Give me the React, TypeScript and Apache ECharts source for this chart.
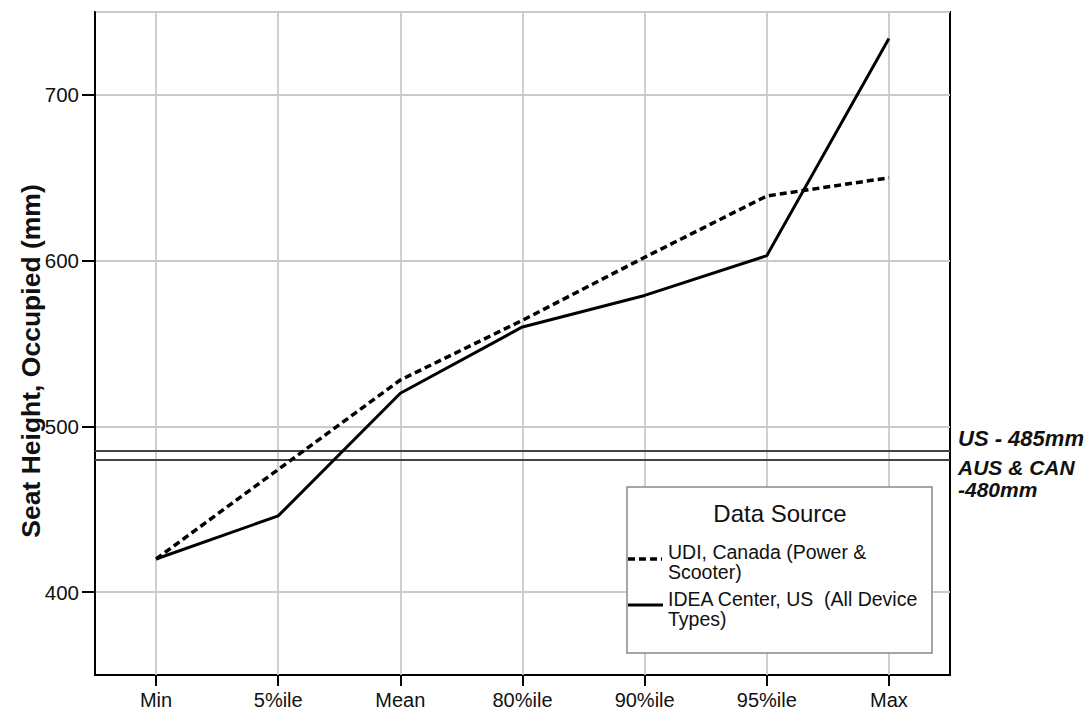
import React, { useEffect, useRef } from "react";
import * as echarts from "echarts";

const categories = ["Min", "5%ile", "Mean", "80%ile", "90%ile", "95%ile", "Max"];
const udiCanada = [420, 474, 528, 564, 602, 639, 650];
const ideaCenter = [420, 446, 520, 560, 579, 603, 734];
const yTicks = [400, 500, 600, 700];
const standardUS = 485;
const standardAusCan = 480;

const FONT = "'Liberation Sans', Arial, sans-serif";

export default function App() {
  const ref = useRef<HTMLDivElement>(null);
  useEffect(() => {
    if (!ref.current) return;
    const chart = echarts.init(ref.current, undefined, { renderer: "svg" });
    chart.setOption({
      animation: false,
      backgroundColor: "#fff",
      grid: {
        left: 95,
        right: 141,
        top: 12,
        bottom: 38,
        show: true,
        borderColor: "#000",
        borderWidth: 2,
        backgroundColor: "transparent",
      },
      xAxis: {
        type: "category",
        data: categories,
        boundaryGap: true,
        axisLine: { show: true, lineStyle: { color: "#000", width: 2 } },
        axisTick: { show: true, alignWithLabel: true, length: 11, lineStyle: { color: "#000", width: 2 } },
        axisLabel: { color: "#111", fontSize: 20, fontFamily: FONT, margin: 15 },
        splitLine: { show: false },
      },
      yAxis: {
        type: "value",
        min: 350,
        max: 750,
        axisLine: { show: true, lineStyle: { color: "#000", width: 2 } },
        axisTick: { show: true, length: 13, lineStyle: { color: "#000", width: 2 } },
        axisLabel: {
          color: "#111",
          fontSize: 20.5,
          fontFamily: FONT,
          margin: 16,
          showMinLabel: false,
          showMaxLabel: false,
          formatter: (v: number) => (yTicks.includes(v) ? String(v) : ""),
        },
        splitLine: { show: true, lineStyle: { color: "#cacaca", width: 1.8 } },
      },
      series: [
        {
          name: "UDI, Canada (Power & Scooter)",
          type: "line",
          data: udiCanada,
          symbol: "none",
          lineStyle: { color: "#000", width: 3.5, type: [7, 4] },
          z: 5,
          markLine: {
            silent: true,
            symbol: "none",
            label: { show: false },
            lineStyle: { color: "#444", width: 2, type: "solid" },
            data: [{ yAxis: standardUS }, { yAxis: standardAusCan }],
          },
        },
        {
          name: "IDEA Center, US  (All Device Types)",
          type: "line",
          data: ideaCenter,
          symbol: "none",
          lineStyle: { color: "#000", width: 3 },
          z: 6,
          markLine: {
            silent: true,
            symbol: "none",
            label: { show: false },
            z: 1,
            lineStyle: { color: "#cacaca", width: 1.8, type: "solid" },
            data: categories.map((c) => ({ xAxis: c })),
          },
        },
      ],
      graphic: [
        {
          type: "rect",
          z: 100,
          shape: { x: 78, y: 9, width: 16, height: 6 },
          style: { fill: "#fff" },
        },
        {
          type: "rect",
          z: 100,
          shape: { x: 78, y: 672, width: 16, height: 6 },
          style: { fill: "#fff" },
        },
        {
          type: "text",
          x: 31,
          y: 361,
          rotation: Math.PI / 2,
          style: {
            text: "Seat Height, Occupied (mm)",
            fill: "#111",
            font: `bold 26.5px ${FONT}`,
            align: "center",
            verticalAlign: "middle",
          },
        },
        {
          type: "text",
          x: 958,
          y: 427,
          style: {
            text: "US - 485mm",
            fill: "#111",
            font: `italic bold 22px ${FONT}`,
            align: "left",
            verticalAlign: "top",
          },
        },
        {
          type: "text",
          x: 958,
          y: 457,
          style: {
            text: "AUS & CAN",
            fill: "#111",
            font: `italic bold 21px ${FONT}`,
            lineHeight: 21,
            align: "left",
            verticalAlign: "top",
          },
        },
        {
          type: "text",
          x: 958,
          y: 479,
          style: {
            text: "-480mm",
            fill: "#111",
            font: `italic bold 21px ${FONT}`,
            lineHeight: 21,
            align: "left",
            verticalAlign: "top",
          },
        },
        {
          type: "rect",
          shape: { x: 627, y: 487, width: 305, height: 166 },
          style: { fill: "#fff", stroke: "#888", lineWidth: 1.5 },
          z: 10,
        },
        {
          type: "text",
          x: 780,
          y: 513,
          z: 11,
          style: {
            text: "Data Source",
            fill: "#111",
            font: `24px ${FONT}`,
            align: "center",
            verticalAlign: "middle",
          },
        },
        {
          type: "line",
          z: 11,
          shape: { x1: 628, y1: 559, x2: 662, y2: 559 },
          style: { stroke: "#000", lineWidth: 3.5, lineDash: [7, 4] },
        },
        {
          type: "text",
          x: 668,
          y: 542,
          z: 11,
          style: {
            text: "UDI, Canada (Power &\nScooter)",
            fill: "#111",
            font: `19.5px ${FONT}`,
            lineHeight: 20,
            align: "left",
            verticalAlign: "top",
          },
        },
        {
          type: "line",
          z: 11,
          shape: { x1: 628, y1: 605, x2: 663, y2: 605 },
          style: { stroke: "#000", lineWidth: 3 },
        },
        {
          type: "text",
          x: 668,
          y: 589,
          z: 11,
          style: {
            text: "IDEA Center, US  (All Device\nTypes)",
            fill: "#111",
            font: `19.5px ${FONT}`,
            lineHeight: 20,
            align: "left",
            verticalAlign: "top",
          },
        },
      ],
    });
    return () => chart.dispose();
  }, []);
  return (
    <div
      ref={ref}
      style={{ position: "fixed", left: 0, top: 0, width: 1091, height: 713, background: "#fff" }}
    />
  );
}
